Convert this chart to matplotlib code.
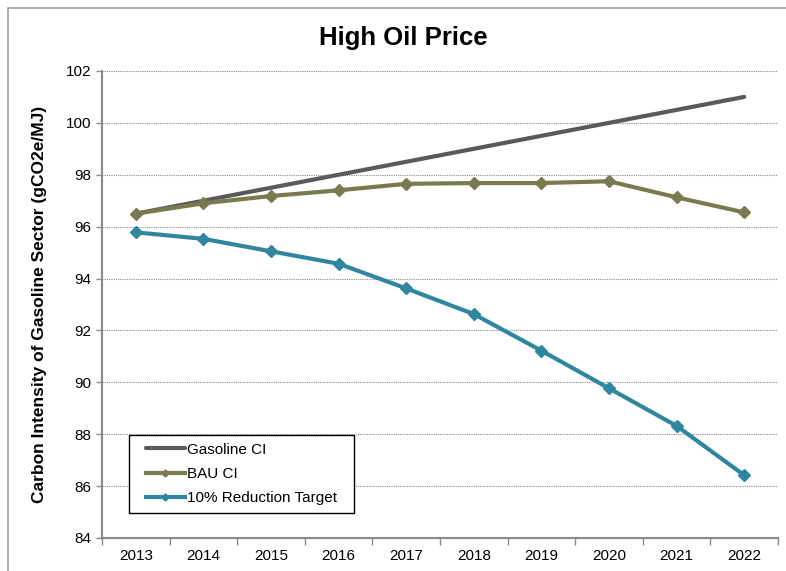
import matplotlib
matplotlib.use("Agg")
import matplotlib.pyplot as plt
from matplotlib.patches import Rectangle

plt.rcParams['font.family'] = ['Liberation Sans', 'DejaVu Sans']

years = ['2013', '2014', '2015', '2016', '2017', '2018', '2019', '2020', '2021', '2022']
gasoline_ci = [96.5, 97.0, 97.5, 98.0, 98.5, 99.0, 99.5, 100.0, 100.5, 101.0]
bau_ci = [96.5, 96.9, 97.18, 97.4, 97.65, 97.68, 97.68, 97.75, 97.13, 96.55]
reduction_target = [95.78, 95.53, 95.05, 94.57, 93.62, 92.63, 91.22, 89.77, 88.32, 86.42]

fig = plt.figure(figsize=(7.86, 5.71), dpi=100)
ax = fig.add_axes([0.1298, 0.0578, 0.8600, 0.8179])

# figure border
fig.patches.append(Rectangle((8/786, -0.1), 1.2, 1 - 8/571 + 0.1, transform=fig.transFigure,
                             fill=False, edgecolor='#a0a0a0', linewidth=1.2))

x = list(range(len(years)))
ax.plot(x, gasoline_ci, color='#5a5a5c', linewidth=3.0, label='Gasoline CI', solid_capstyle='round')
ax.plot(x, bau_ci, color='#797a4f', linewidth=3.0, marker='D', markersize=6, label='BAU CI')
ax.plot(x, reduction_target, color='#2f869e', linewidth=3.0, marker='D', markersize=6,
        label='10% Reduction Target')

ax.set_xlim(-0.5, len(years) - 0.5)
ax.set_ylim(84, 102)
ax.set_yticks(range(84, 103, 2))
ax.set_xticks(x)
ax.set_xticklabels(years)
ax.set_xticks([i - 0.5 for i in range(len(years) + 1)], minor=True)
ax.tick_params(axis='x', which='major', length=0, labelsize=11, pad=8)
ax.tick_params(axis='x', which='minor', length=5, color='#888888', width=1, direction='out')
ax.tick_params(axis='y', length=4, color='#888888', width=1, labelsize=11, pad=4)

ax.grid(axis='y', color='#8a8a8a', linestyle=(0, (1, 1)), linewidth=0.8)
ax.set_axisbelow(True)
for s in ['top', 'right']:
    ax.spines[s].set_visible(False)
for s in ['left', 'bottom']:
    ax.spines[s].set_color('#888888')
    ax.spines[s].set_linewidth(1.5)

ax.set_ylabel('Carbon Intensity of Gasoline Sector (gCO2e/MJ)', fontsize=12.5, fontweight='bold', labelpad=13)
fig.text(403/786, 1 - 38/571, 'High Oil Price', ha='center', va='center', fontsize=18.5, fontweight='bold')

# legend frame drawn as a box, legend content centered inside
x0, x1 = 0.040, 0.3728
y0, y1 = 0.0535, 0.2206
ax.add_patch(Rectangle((x0, y0), x1 - x0, y1 - y0, transform=ax.transAxes, fill=True,
                       facecolor='white', edgecolor='black', linewidth=1.0, zorder=4))
leg = ax.legend(loc='center', bbox_to_anchor=((x0 + x1) / 2, (y0 + y1) / 2), fontsize=11,
                frameon=False, handlelength=2.55, handletextpad=0.15,
                borderpad=0.0, labelspacing=0.68, markerscale=0.6)
leg.set_zorder(5)

fig.savefig('out.png', dpi=100)
